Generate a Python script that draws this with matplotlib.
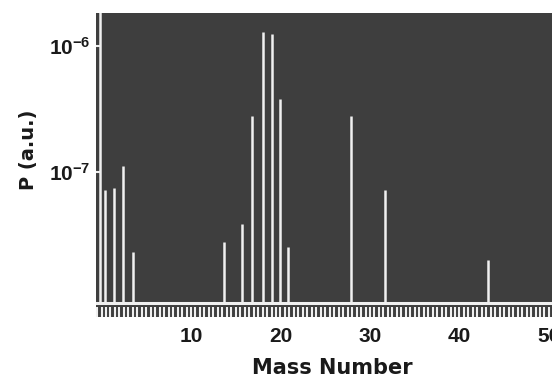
import matplotlib as mpl
mpl.use('Agg')
import matplotlib.pyplot as plt
from matplotlib.ticker import FixedLocator, MultipleLocator, NullLocator, FixedFormatter

# mass spectrum peaks (mass number, pressure in a.u.)
mass = [-0.15, 0.39, 1.4, 2.4, 3.5, 13.7, 15.7, 16.85, 18.08, 19.1, 19.94, 20.8, 27.88, 31.68, 43.2]
pressure = [1e-4, 7.2e-8, 7.5e-8, 1.12e-7, 2.3e-8, 2.8e-8, 3.9e-8, 2.8e-7, 1.29e-6, 1.25e-6,
            3.8e-7, 2.55e-8, 2.8e-7, 7.2e-8, 2.0e-8]
baseline = 9.1e-9

xticks = [10, 20, 30, 40, 50]
yticks = [1e-7, 1e-6]
ylabels = [r'$\mathbf{10^{-7}}$', r'$\mathbf{10^{-6}}$']

plt.rcParams['mathtext.fontset'] = 'custom'
plt.rcParams['mathtext.bf'] = 'Liberation Sans:bold'
plt.rcParams['mathtext.rm'] = 'Liberation Sans:bold'

bg = '#3e3e3e'
fg = '#f0f0f0'

fig = plt.figure(figsize=(5.52, 3.8), dpi=100)
ax = fig.add_axes([0.1748, 0.1658, 0.8252, 0.8])
ax.set_facecolor(bg)
for s in ax.spines.values():
    s.set_visible(False)

ax.set_yscale('log')
ax.set_xlim(-0.56, 50.34)
ax.set_ylim(7.06e-9, 1.83e-6)

ax.vlines(mass, baseline, pressure, color=fg, lw=1.8)
ax.axhline(baseline, color=fg, lw=2.2)

ax.xaxis.set_major_locator(FixedLocator(xticks))
ax.xaxis.set_minor_locator(MultipleLocator(0.5))
ax.tick_params(axis='x', which='both', direction='in', length=7, width=1.5, color=fg, pad=7)
ax.set_xticklabels([str(t) for t in xticks], fontfamily='Liberation Sans', fontweight='bold',
                   fontsize=15, color='#1a1a1a')

ax.yaxis.set_major_locator(FixedLocator(yticks))
ax.yaxis.set_minor_locator(NullLocator())
ax.yaxis.set_major_formatter(FixedFormatter(ylabels))
ax.tick_params(axis='y', which='both', direction='in', length=3, width=1.5, color=fg, pad=4,
               labelsize=15, labelcolor='#1a1a1a')

ax.set_xlabel('Mass Number', fontfamily='DejaVu Sans', fontweight='bold', fontsize=15,
              color='#1a1a1a')
ax.xaxis.set_label_coords((332 - 96.5) / 455.5, -(358 - 317) / 304)
ax.set_ylabel('P (a.u.)', fontfamily='DejaVu Sans', fontweight='bold', fontsize=14,
              color='#1a1a1a')
ax.yaxis.set_label_coords(-(96.5 - 38) / 455.5, (317 - 150) / 304)

fig.savefig('out.png', dpi=100)
